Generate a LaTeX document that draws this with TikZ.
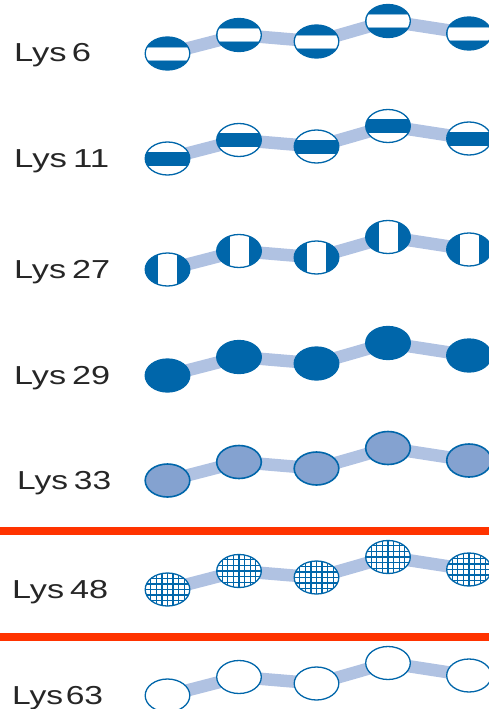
\documentclass[tikz,border=0pt]{standalone}
\usepackage{fontspec}
\setmainfont{Liberation Sans}
\usetikzlibrary{shapes.geometric,backgrounds}
\definecolor{dblue}{RGB}{0,102,170}
\definecolor{mblue}{RGB}{132,162,208}
\definecolor{lblue}{RGB}{176,194,226}
\definecolor{rred}{RGB}{255,51,0}
\begin{document}
\begin{tikzpicture}[x=1pt,y=-1pt,
  dot/.style={ellipse, minimum width=44.6pt, minimum height=33pt, inner sep=0pt,
    draw=dblue, line width=1.3pt, fill=white},
  link/.style={draw=lblue, line width=12.5pt, line join=round},
  lab/.style={anchor=base west, inner sep=0pt, text=black!85,
    font=\fontsize{26}{30}\selectfont},
  hstripe/.style={fill=dblue, path picture={
    \fill[white, draw=dblue!45, line width=0.4pt]
      ([yshift=-6.6pt]path picture bounding box.west) rectangle
      ([yshift=6.6pt]path picture bounding box.east);}},
  hbar/.style={fill=white, path picture={
    \fill[dblue]
      ([yshift=-7pt]path picture bounding box.west) rectangle
      ([yshift=7pt]path picture bounding box.east);}},
  vbar/.style={fill=dblue, path picture={
    \fill[white]
      ([xshift=-9.5pt]path picture bounding box.south) rectangle
      ([xshift=9.5pt]path picture bounding box.north);}},
  solid/.style={fill=dblue},
  mid/.style={fill=mblue, line width=1.6pt},
  mesh/.style={fill=white, path picture={
    \draw[dblue, line width=1.25pt, step=5.6pt]
      ([shift={(-1.5pt,-1.5pt)}]path picture bounding box.south west) grid
      (path picture bounding box.north east);}},
  plain/.style={fill=white},
]
\useasboundingbox (0,0) rectangle (489,709);

% separator bars
\fill[rred] (0,527) rectangle (489,535);
\fill[rred] (0,633) rectangle (489,641);

\foreach \r/\dy/\sty/\lx/\txt/\w in {
    1/0/hstripe/14/{Lys\hspace{4pt}6}/77,
    2/105/hbar/14/{Lys\hspace{4.5pt}11}/95,
    3/216/vbar/14/{Lys\hspace{4.5pt}27}/96,
    4/322/solid/14/{Lys\hspace{4.5pt}29}/96,
    5/427/mid/17/{Lys\hspace{4.5pt}33}/94,
    6/536/mesh/12/{Lys\hspace{4.5pt}48}/96,
    7/642/plain/12/{Lys\hspace{2pt}63}/91}{
  \node[lab] (l\r) at (\lx,62+\dy) {\resizebox{\w pt}{\height}{\txt}};
  \foreach \i/\x/\y in {1/167.5/53.5, 2/239/35, 3/316.5/41.5, 4/388/21, 5/469/33.5}{
    \node[dot, \sty] (e\r-\i) at (\x,\y+\dy) {};
  }
  \begin{scope}[on background layer]
    \draw[link] (e\r-1.center) -- (e\r-2.center) -- (e\r-3.center)
      -- (e\r-4.center) -- (e\r-5.center);
  \end{scope}
}
\end{tikzpicture}
\end{document}
